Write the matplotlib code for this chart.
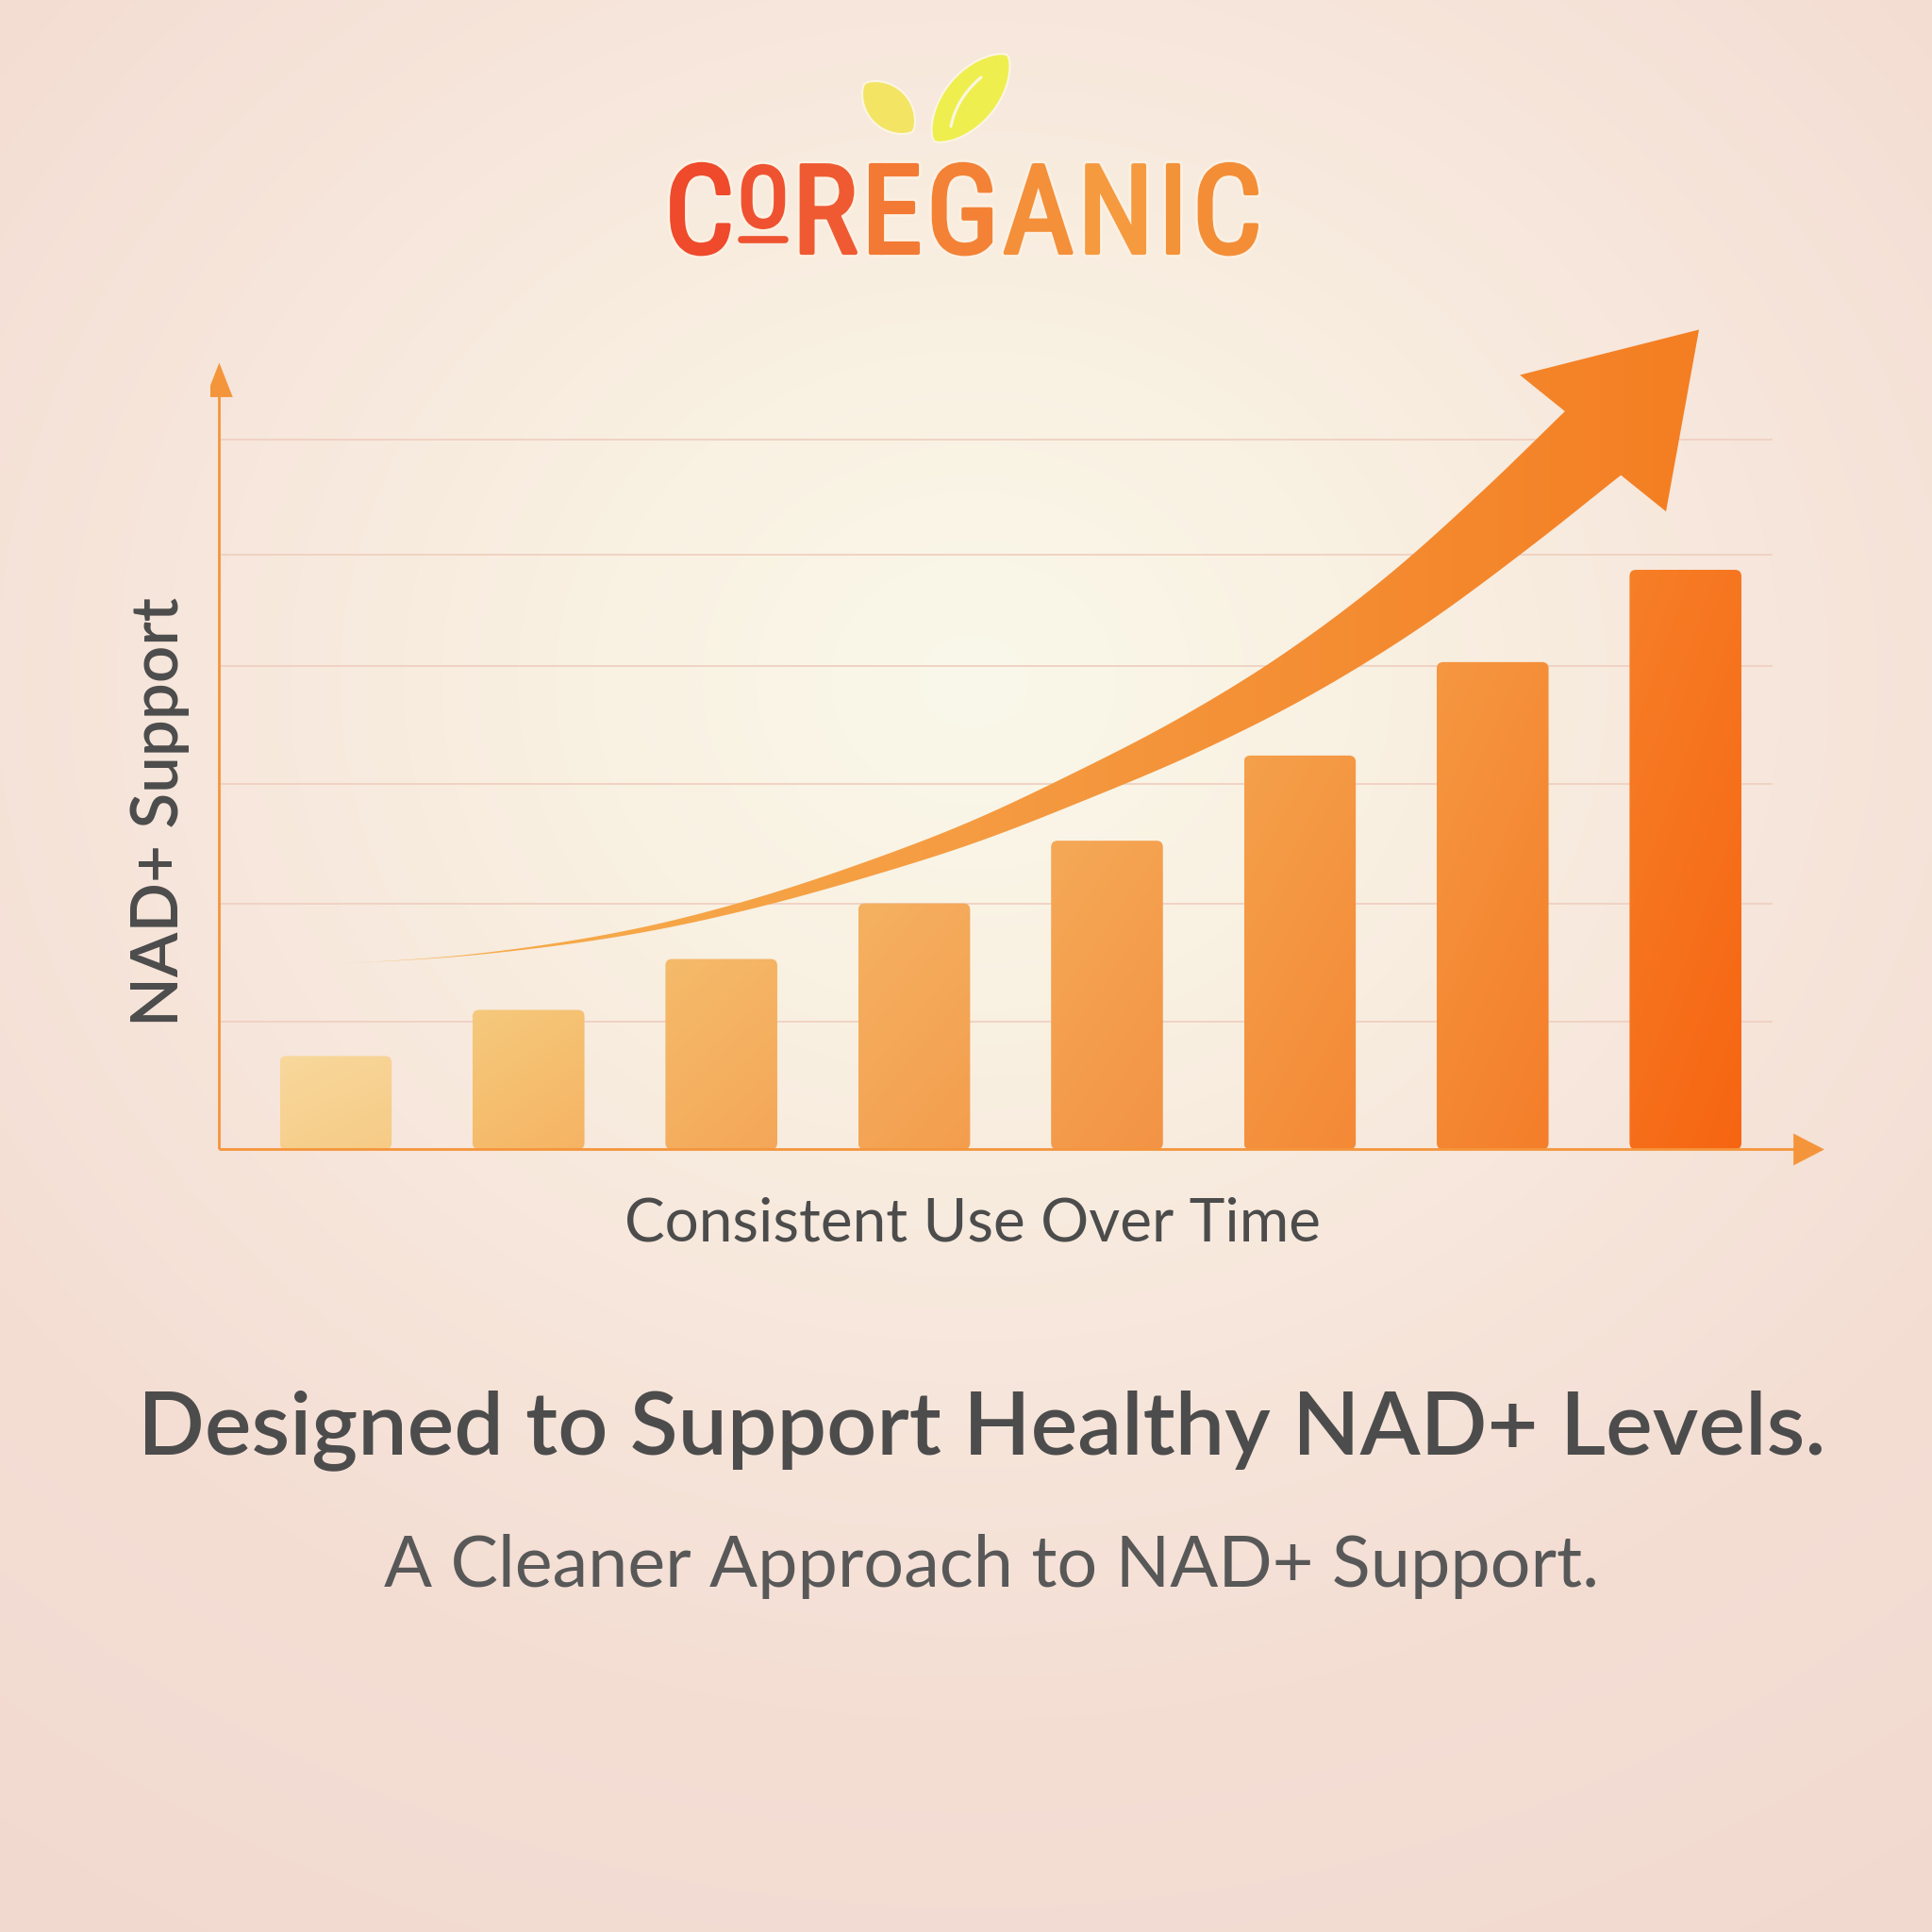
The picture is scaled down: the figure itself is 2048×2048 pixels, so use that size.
import numpy as np
import matplotlib
matplotlib.use("Agg")
import matplotlib.pyplot as plt
from matplotlib import font_manager
from matplotlib.patches import FancyBboxPatch, Polygon
from matplotlib.colors import to_rgb
import matplotlib.patheffects as pe

# ------------------------------------------------------------------ data
periods = ["T1", "T2", "T3", "T4", "T5", "T6", "T7", "T8"]
nad_support = [0.79, 1.18, 1.61, 2.08, 2.61, 3.33, 4.12, 4.90]
grid_levels = [1.08, 2.08, 3.09, 4.09, 5.03, 6.00]
# centre line of the rising trend arrow (last point = arrow tip)
trend_x = [-0.07, 0.73, 1.72, 2.17, 2.74, 3.30, 3.86, 4.42, 4.98, 5.54, 6.10, 6.52, 7.07]
trend_y = [1.56, 1.65, 1.90, 2.08, 2.36, 2.68, 3.07, 3.50, 4.01, 4.63, 5.37, 5.97, 6.93]
brand_letters = ["C", "O", "R", "E", "G", "A", "N", "I", "C"]
title = "Designed to Support Healthy NAD+ Levels."
subtitle = "A Cleaner Approach to NAD+ Support."
x_label = "Consistent Use Over Time"
y_label = "NAD+ Support"

# ------------------------------------------------------------------ style
bar_light = ["#F8D89C", "#F6C97C", "#F5BB6A", "#F5B161", "#F5A956", "#F5A04B", "#F69741", "#F67F27"]
bar_dark = ["#F6CB86", "#F5B463", "#F4A758", "#F39E4E", "#F39345", "#F48936", "#F47E2A", "#F76512"]
letter_colors = ["#EE4A2B", "#EF5230", "#EF5A32", "#F37A34", "#F38236",
                 "#F48F3A", "#F59A3F", "#F39339", "#F38E37"]
AXIS_C = "#F4953C"
GRID_C = "#F0D0C1"
TEXT_C = "#4C4C4C"
W = H = 2048


def pick(names, default="DejaVu Sans"):
    have = {f.name for f in font_manager.fontManager.ttflist}
    for nm in names:
        if nm in have:
            return nm
    return default


TEXT_FONT = pick(["Lato", "Open Sans", "Noto Sans"])
LOGO_FONT = pick(["Liberation Sans Narrow", "DejaVu Sans Condensed", "Roboto Condensed",
                  "Liberation Sans"])

fig = plt.figure(figsize=(20.48, 20.48), dpi=100)

# ------------------------------------------------------------------ background
bg = fig.add_axes([0, 0, 1, 1])
bg.axis("off")
yy, xx = np.mgrid[0:H:4, 0:W:4].astype(float)
r = np.sqrt(((xx - 1030) / 1150) ** 2 + ((yy - 720) / 1000) ** 2)
stops = [0.0, 0.35, 0.7, 1.1, 1.7]
cols = np.array([to_rgb(c) for c in ["#FAF8EA", "#F9F1E2", "#F7E7DC", "#F4DED4", "#F1D8CF"]])
img = np.stack([np.interp(r, stops, cols[:, k]) for k in range(3)], axis=-1)
bg.imshow(img, extent=(0, W, H, 0), aspect="auto", interpolation="bilinear", zorder=0)
bg.set_xlim(0, W)
bg.set_ylim(H, 0)

# ------------------------------------------------------------------ chart axes
xlim = (-0.65, 7.8)
ylim = (-0.3, 7.2)
ax = fig.add_axes([0.10889, 0.38667, 0.84336, 0.45923])
ax.patch.set_alpha(0)
ax.axis("off")

axis_x0 = -0.604
ax.hlines(grid_levels, axis_x0, 7.45, colors=GRID_C, linewidth=1.3, zorder=1)

# bars (library bars, filled with a soft gradient and rounded tops)
bars = ax.bar(periods, nad_support, width=0.58, color="none", edgecolor="none", zorder=2)
n = 64
fx = np.linspace(0, 1, n)[None, :]
fy = np.linspace(0, 1, n)[:, None]
tmix = np.clip(0.35 * fx + 0.65 * fy, 0, 1)
for rect, cl, cd in zip(bars, bar_light, bar_dark):
    x0, w, h = rect.get_x(), rect.get_width(), rect.get_height()
    shape = FancyBboxPatch((x0, 0), w, h, boxstyle="round,pad=0,rounding_size=0.034",
                           mutation_aspect=1.63, facecolor="none", edgecolor="none",
                           transform=ax.transData)
    ax.add_patch(shape)
    a, b = np.array(to_rgb(cl)), np.array(to_rgb(cd))
    grad = a[None, None, :] * (1 - tmix[..., None]) + b[None, None, :] * tmix[..., None]
    im = ax.imshow(grad, extent=(x0, x0 + w, 0, h), origin="upper", aspect="auto",
                   interpolation="bilinear", zorder=3)
    im.set_clip_path(shape)

ax.set_xlim(*xlim)
ax.set_ylim(*ylim)

# axis lines with arrow heads
ax.plot([axis_x0, axis_x0], [0, 6.37], color=AXIS_C, lw=2.0, solid_capstyle="butt", zorder=5)
ax.add_patch(Polygon([[axis_x0 - 0.07, 6.36], [axis_x0 + 0.07, 6.36], [axis_x0, 6.65]],
                     closed=True, facecolor=AXIS_C, edgecolor="none", zorder=5))
ax.plot([axis_x0, 7.57], [0, 0], color=AXIS_C, lw=2.0, solid_capstyle="butt", zorder=5)
ax.add_patch(Polygon([[7.56, -0.135], [7.56, 0.135], [7.72, 0]],
                     closed=True, facecolor=AXIS_C, edgecolor="none", zorder=5))

# ------------------------------------------------------------------ trend arrow
pts = ax.transData.transform(np.column_stack([trend_x, trend_y]))
shaft, tip = pts[:-1], pts[-1]
xs, ys = shaft[:, 0], shaft[:, 1]
sl = np.diff(ys) / np.diff(xs)
m = np.empty_like(xs)
m[0], m[-1] = sl[0], sl[-1]
hx = np.diff(xs)
m[1:-1] = (sl[1:] * hx[:-1] + sl[:-1] * hx[1:]) / (hx[:-1] + hx[1:])
cx_list, cy_list = [], []
for i in range(len(xs) - 1):
    t = np.linspace(0, 1, 40, endpoint=False)
    h_ = hx[i]
    h00 = 2 * t ** 3 - 3 * t ** 2 + 1
    h10 = t ** 3 - 2 * t ** 2 + t
    h01 = -2 * t ** 3 + 3 * t ** 2
    h11 = t ** 3 - t ** 2
    cx_list.append(xs[i] + t * h_)
    cy_list.append(h00 * ys[i] + h10 * h_ * m[i] + h01 * ys[i + 1] + h11 * h_ * m[i + 1])
cx_list.append([xs[-1]])
cy_list.append([ys[-1]])
C = np.column_stack([np.concatenate(cx_list), np.concatenate(cy_list)])

d = np.gradient(C, axis=0)
d /= np.linalg.norm(d, axis=1)[:, None]
nrm = np.column_stack([-d[:, 1], d[:, 0]])
frac = np.clip((C[:, 0] - C[0, 0]) / (C[-1, 0] - C[0, 0]), 0, 1)
half = 0.5 * 90.0 * frac ** 2.05
upper = C + nrm * half[:, None]
lower = C - nrm * half[:, None]
base = C[-1]
hd = (tip - base) / np.linalg.norm(tip - base)
hn = np.array([-hd[1], hd[0]])
poly_px = np.vstack([upper, base + hn * 106, tip, base - hn * 106, lower[::-1]])
poly = ax.transData.inverted().transform(poly_px)

arrow_shape = Polygon(poly, closed=True, facecolor="none", edgecolor="none", zorder=4)
ax.add_patch(arrow_shape)
ax_x0, ax_x1 = poly[:, 0].min(), poly[:, 0].max()
ay0, ay1 = poly[:, 1].min(), poly[:, 1].max()
gs = np.linspace(0, 1, 256)
g_stops = [0.0, 0.5, 1.0]
g_cols = np.array([to_rgb(c) for c in ["#F7B14D", "#F59A41", "#F47E22"]])
row = np.stack([np.interp(gs, g_stops, g_cols[:, k]) for k in range(3)], axis=-1)
agrad = np.repeat(row[None, :, :], 8, axis=0)
aim = ax.imshow(agrad, extent=(ax_x0, ax_x1, ay0, ay1), aspect="auto",
                interpolation="bilinear", zorder=4)
aim.set_clip_path(arrow_shape)
ax.set_xlim(*xlim)
ax.set_ylim(*ylim)

# ------------------------------------------------------------------ texts
renderer = fig.canvas.get_renderer()


def fit(t, target, vertical=False):
    for _ in range(2):
        bb = t.get_window_extent(renderer=renderer)
        size = bb.height if vertical else bb.width
        t.set_fontsize(t.get_fontsize() * target / size)


t_x = bg.text(1031, 1315, x_label, ha="center", va="baseline", fontsize=40,
              family=TEXT_FONT, weight="normal", color=TEXT_C, zorder=6)
fit(t_x, 738)
t_y = bg.text(189, 861, y_label, ha="center", va="baseline", rotation=90,
              rotation_mode="anchor", fontsize=40, family=TEXT_FONT, weight="semibold",
              color=TEXT_C, zorder=6)
fit(t_y, 455, vertical=True)
t_t = bg.text(1041, 1541, title, ha="center", va="baseline", fontsize=60,
              family=TEXT_FONT, weight="semibold", color=TEXT_C, zorder=6)
fit(t_t, 1790)
t_s = bg.text(1051, 1682, subtitle, ha="center", va="baseline", fontsize=40,
              family=TEXT_FONT, weight="normal", color="#585858", zorder=6)
fit(t_s, 1288)

# ------------------------------------------------------------------ logo
def leaf(cx, cy, L, Wd, ang, color):
    s = np.linspace(-1, 1, 80)
    v = 0.5 * Wd * (1 - s ** 2) ** 0.7
    u = 0.5 * L * s
    uu = np.concatenate([u, u[::-1]])
    vv = np.concatenate([v, -v[::-1]])
    th = np.radians(ang)
    px = cx + uu * np.cos(th) - vv * np.sin(th)
    py = cy - (uu * np.sin(th) + vv * np.cos(th))
    bg.add_patch(Polygon(np.column_stack([px, py]), closed=True, facecolor=color,
                         edgecolor="#FBF6E4", lw=1.5, zorder=6))


leaf(942, 114, 72, 44, -45, "#F3E464")
leaf(1029, 104, 120, 54, 49.6, "#EFEE4F")
tv = np.linspace(0, 1, 30)
p0, p1, p2 = np.array([1008, 134]), np.array([1014, 104]), np.array([1040, 82])
vein = ((1 - tv) ** 2)[:, None] * p0 + (2 * tv * (1 - tv))[:, None] * p1 + (tv ** 2)[:, None] * p2
bg.plot(vein[:, 0], vein[:, 1], color="#FBF7E2", lw=2.2, zorder=7, solid_capstyle="round")

letter_base = [268, 240, 268, 268, 268, 268, 268, 268, 268]
letter_size = [94, 64, 94, 94, 94, 94, 94, 94, 94]
logo_texts = []
for ch, yb, fs, c in zip(brand_letters, letter_base, letter_size, letter_colors):
    fx_ = [pe.Stroke(linewidth=7, foreground="#FCF0E2"),
           pe.Stroke(linewidth=3, foreground=c), pe.Normal()]
    logo_texts.append(bg.text(0, yb, ch, ha="left", va="baseline", fontsize=fs,
                              family=LOGO_FONT, weight="normal", color=c, zorder=8,
                              path_effects=fx_))
widths = [t.get_window_extent(renderer=renderer).width for t in logo_texts]
gap = 4
total = sum(widths) + gap * (len(widths) - 1)
xcur = 1021 - total / 2
o_left = o_right = None
for t, wdt in zip(logo_texts, widths):
    t.set_x(xcur)
    if t is logo_texts[1]:
        o_left, o_right = xcur, xcur + wdt
    xcur += wdt + gap
bg.plot([o_left + 4, o_right - 4], [254, 254], color=letter_colors[1], lw=5.5,
        solid_capstyle="round", zorder=8)

fig.savefig("out.png", dpi=100)
